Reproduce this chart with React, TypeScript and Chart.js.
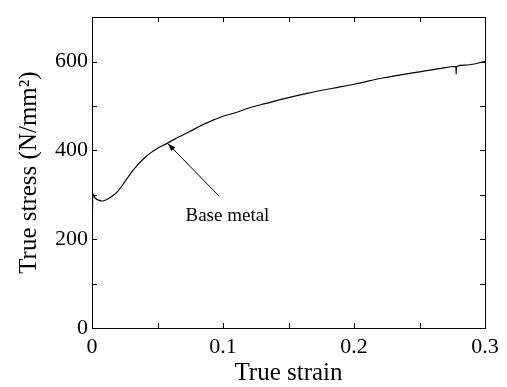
import React, { useEffect, useRef } from "react";
import { Chart, registerables } from "chart.js";

Chart.register(...registerables);

const strain = [0, 0.0003, 0.0008, 0.0015, 0.003, 0.005, 0.0076, 0.011, 0.015, 0.02, 0.025, 0.03, 0.035, 0.04, 0.045, 0.05, 0.058, 0.066, 0.075, 0.0824, 0.09, 0.1, 0.1076, 0.12, 0.133, 0.146, 0.165, 0.184, 0.2, 0.222, 0.25, 0.265, 0.2778, 0.278, 0.2782, 0.285, 0.3];
const stress = [0, 250, 302, 297, 291, 288, 286, 289, 296, 309, 329, 350, 368, 383, 395, 405, 417, 430, 443, 455, 465, 477, 483, 496, 506, 516, 529, 540, 549, 563, 577, 584, 589, 572, 589, 592, 600];

const xTickValues = [0, 0.1, 0.2, 0.3];
const yTickValues = [0, 200, 400, 600];
const xTitle = "True strain";
const yTitle = "True stress (N/mm\u00B2)";
const annotationText = "Base metal";
const arrowHead = { x: 0.058, y: 415 };
const arrowTail = { x: 0.097, y: 297 };
const annotationPos = { x: 0.1034, y: 242 };

const FONT = "'Liberation Serif', 'Times New Roman', serif";

const framePlugin = {
  id: "frame",
  afterDraw(chart: any) {
    const { ctx, chartArea: a, scales } = chart;
    const xs = scales.x;
    const ys = scales.y;
    ctx.save();
    ctx.strokeStyle = "#000";
    ctx.lineWidth = 1;
    ctx.strokeRect(Math.round(a.left) + 0.5, Math.round(a.top) + 0.5, Math.round(a.right - a.left), Math.round(a.bottom - a.top));
    const tl = 5;
    ctx.beginPath();
    for (let v = 0; v <= 0.3001; v += 0.05) {
      const px = Math.round(xs.getPixelForValue(v)) + 0.5;
      ctx.moveTo(px, a.bottom);
      ctx.lineTo(px, a.bottom - tl);
      ctx.moveTo(px, a.top);
      ctx.lineTo(px, a.top + tl);
    }
    for (let v = 0; v <= 700; v += 100) {
      const py = Math.round(ys.getPixelForValue(v)) + 0.5;
      ctx.moveTo(a.left, py);
      ctx.lineTo(a.left + tl, py);
      ctx.moveTo(a.right, py);
      ctx.lineTo(a.right - tl, py);
    }
    ctx.stroke();

    // annotation arrow
    const hx = xs.getPixelForValue(arrowHead.x);
    const hy = ys.getPixelForValue(arrowHead.y);
    const tx = xs.getPixelForValue(arrowTail.x);
    const ty = ys.getPixelForValue(arrowTail.y);
    ctx.beginPath();
    ctx.moveTo(tx, ty);
    ctx.lineTo(hx, hy);
    ctx.stroke();
    const ang = Math.atan2(hy - ty, hx - tx);
    const L = 8;
    const w = 0.35;
    ctx.beginPath();
    ctx.moveTo(hx, hy);
    ctx.lineTo(hx - L * Math.cos(ang - w), hy - L * Math.sin(ang - w));
    ctx.lineTo(hx - L * Math.cos(ang + w), hy - L * Math.sin(ang + w));
    ctx.closePath();
    ctx.fillStyle = "#000";
    ctx.fill();

    ctx.font = `19px ${FONT}`;
    ctx.textAlign = "center";
    ctx.textBaseline = "alphabetic";
    ctx.fillStyle = "#000";
    ctx.fillText(annotationText, xs.getPixelForValue(annotationPos.x), ys.getPixelForValue(annotationPos.y));
    ctx.restore();
  },
};

export default function App() {
  const ref = useRef<HTMLCanvasElement | null>(null);
  useEffect(() => {
    if (!ref.current) return;
    const data = strain.map((s, i) => ({ x: s, y: stress[i] }));
    const chart = new Chart(ref.current, {
      type: "line",
      data: {
        datasets: [
          {
            data,
            borderColor: "#000",
            borderWidth: 1.2,
            pointRadius: 0,
            cubicInterpolationMode: "monotone",
            fill: false,
          },
        ],
      },
      options: {
        animation: false,
        responsive: false,
        maintainAspectRatio: false,
        layout: { padding: { top: 10, right: 22, left: 0, bottom: 0 } },
        plugins: { legend: { display: false }, tooltip: { enabled: false } },
        scales: {
          x: {
            type: "linear",
            min: 0,
            max: 0.3,
            grid: { display: false, drawTicks: false },
            border: { display: false },
            afterFit: (s: any) => {
              s.height = 59;
            },
            afterBuildTicks: (s: any) => {
              s.ticks = xTickValues.map((v) => ({ value: v }));
            },
            ticks: {
              color: "#000",
              padding: 6,
              maxRotation: 0,
              font: { family: FONT, size: 22 },
              callback: (v: any) => String(Math.round(Number(v) * 10) / 10),
            },
            title: {
              display: true,
              text: xTitle,
              color: "#000",
              font: { family: FONT, size: 25, lineHeight: 1 },
              padding: { top: 0, bottom: 1 },
            },
          },
          y: {
            type: "linear",
            min: 0,
            max: 700,
            grid: { display: false, drawTicks: false },
            border: { display: false },
            afterFit: (s: any) => {
              s.width = 92;
            },
            afterBuildTicks: (s: any) => {
              s.ticks = yTickValues.map((v) => ({ value: v }));
            },
            ticks: {
              color: "#000",
              padding: 4,
              font: { family: FONT, size: 22 },
              callback: (v: any) => String(v),
            },
            title: {
              display: true,
              text: yTitle,
              color: "#000",
              font: { family: FONT, size: 25, lineHeight: 1 },
              padding: { top: 17, bottom: 0 },
            },
          },
        },
      },
      plugins: [framePlugin],
    });
    return () => chart.destroy();
  }, []);
  return (
    <div style={{ position: "absolute", left: 0, top: 0, width: 507, height: 387, background: "#fff" }}>
      <canvas ref={ref} width={507} height={387} style={{ width: 507, height: 387 }} />
    </div>
  );
}
